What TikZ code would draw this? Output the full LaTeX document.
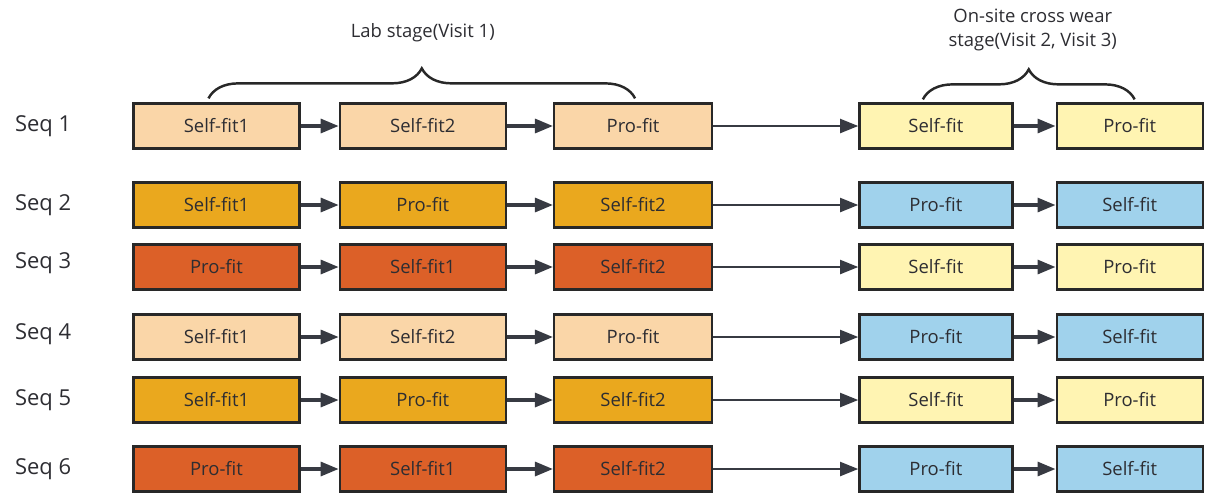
\documentclass[tikz,border=0pt]{standalone}
\usepackage{fontspec}
\setmainfont{Open Sans}
\usetikzlibrary{arrows.meta,positioning,calc,decorations.pathreplacing}

\definecolor{peach}{RGB}{250,214,168}
\definecolor{gold}{RGB}{234,168,30}
\definecolor{rust}{RGB}{220,96,40}
\definecolor{cream}{RGB}{255,244,178}
\definecolor{sky}{RGB}{160,210,236}
\definecolor{boxline}{RGB}{40,40,40}
\definecolor{txt}{RGB}{45,45,50}
\definecolor{arrgray}{RGB}{55,58,66}

\begin{document}
\begin{tikzpicture}[
    node distance=0.8cm,
    fitbox/.style={rectangle, draw=boxline, line width=1.3pt, minimum height=0.9cm,
                   inner sep=2pt, font=\fontsize{10.5}{12}\selectfont, text=txt},
    peachbox/.style={fitbox, fill=peach},
    goldbox/.style={fitbox, fill=gold},
    rustbox/.style={fitbox, fill=rust},
    creambox/.style={fitbox, fill=cream},
    skybox/.style={fitbox, fill=sky},
    colA/.style={minimum width=3.32cm},
    colB/.style={minimum width=3.32cm},
    colC/.style={minimum width=3.16cm},
    colD/.style={minimum width=3.06cm},
    colE/.style={minimum width=2.92cm},
    seqlbl/.style={font=\fontsize{12.5}{14}\selectfont, text=txt},
    stagelbl/.style={font=\fontsize{10.5}{13.6}\selectfont, text=txt, align=center},
    arr/.style={-{Triangle[length=0.36cm, width=0.28cm]}, line width=1.8pt, draw=arrgray},
    longarr/.style={-{Triangle[length=0.36cm, width=0.28cm]}, line width=1.1pt, draw=arrgray},
    brace/.style={decorate, decoration={brace, amplitude=0.6cm}, line width=1.4pt, draw=boxline}
  ]
    \useasboundingbox (0,0) rectangle (24.14,-9.86);

    %--- Seq 1 ---
    \node[peachbox, colA] at (4.33,-2.52) (s1a) {Self-fit1};
    \node[peachbox, colB, right=0.76cm of s1a] (s1b) {Self-fit2};
    \node[peachbox, colC, right=0.92cm of s1b] (s1c) {Pro-fit};
    \node[creambox, colD, right=2.90cm of s1c] (s1d) {Self-fit};
    \node[creambox, colE, right=0.84cm of s1d] (s1e) {Pro-fit};

    %--- Seq 2 ---
    \node[goldbox, colA] at (4.33,-4.10) (s2a) {Self-fit1};
    \node[goldbox, colB, right=0.76cm of s2a] (s2b) {Pro-fit};
    \node[goldbox, colC, right=0.92cm of s2b] (s2c) {Self-fit2};
    \node[skybox,  colD, right=2.90cm of s2c] (s2d) {Pro-fit};
    \node[skybox,  colE, right=0.84cm of s2d] (s2e) {Self-fit};

    %--- Seq 3 ---
    \node[rustbox, colA] at (4.33,-5.34) (s3a) {Pro-fit};
    \node[rustbox, colB, right=0.76cm of s3a] (s3b) {Self-fit1};
    \node[rustbox, colC, right=0.92cm of s3b] (s3c) {Self-fit2};
    \node[creambox, colD, right=2.90cm of s3c] (s3d) {Self-fit};
    \node[creambox, colE, right=0.84cm of s3d] (s3e) {Pro-fit};

    %--- Seq 4 ---
    \node[peachbox, colA] at (4.33,-6.74) (s4a) {Self-fit1};
    \node[peachbox, colB, right=0.76cm of s4a] (s4b) {Self-fit2};
    \node[peachbox, colC, right=0.92cm of s4b] (s4c) {Pro-fit};
    \node[skybox,   colD, right=2.90cm of s4c] (s4d) {Pro-fit};
    \node[skybox,   colE, right=0.84cm of s4d] (s4e) {Self-fit};

    %--- Seq 5 ---
    \node[goldbox, colA] at (4.33,-8.00) (s5a) {Self-fit1};
    \node[goldbox, colB, right=0.76cm of s5a] (s5b) {Pro-fit};
    \node[goldbox, colC, right=0.92cm of s5b] (s5c) {Self-fit2};
    \node[creambox, colD, right=2.90cm of s5c] (s5d) {Self-fit};
    \node[creambox, colE, right=0.84cm of s5d] (s5e) {Pro-fit};

    %--- Seq 6 ---
    \node[rustbox, colA] at (4.33,-9.38) (s6a) {Pro-fit};
    \node[rustbox, colB, right=0.76cm of s6a] (s6b) {Self-fit1};
    \node[rustbox, colC, right=0.92cm of s6b] (s6c) {Self-fit2};
    \node[skybox,  colD, right=2.90cm of s6c] (s6d) {Pro-fit};
    \node[skybox,  colE, right=0.84cm of s6d] (s6e) {Self-fit};

    %--- Row labels ---
    \node[seqlbl, left=1.1cm of s1a] (q1) {Seq 1};
    \node[seqlbl, left=1.1cm of s2a] (q2) {Seq 2};
    \node[seqlbl, left=1.1cm of s3a, yshift=0.08cm] (q3) {Seq 3};
    \node[seqlbl, left=1.1cm of s4a, yshift=0.06cm] (q4) {Seq 4};
    \node[seqlbl, left=1.1cm of s5a] (q5) {Seq 5};
    \node[seqlbl, left=1.1cm of s6a] (q6) {Seq 6};

    %--- Stage braces and titles ---
    \draw[brace] ([xshift=-0.16cm, yshift=0.08cm]s1a.north)
              -- ([xshift=0.04cm, yshift=0.08cm]s1c.north);
    \draw[brace] ([xshift=-0.26cm, yshift=0.06cm]s1d.north)
              -- ([xshift=0.10cm, yshift=0.06cm]s1e.north);
    \node[stagelbl, above=1.08cm of s1b] (lab) {Lab stage(Visit 1)};
    \node[stagelbl, anchor=south] (onsite)
      at ($(s1d.north)!0.5!(s1e.north)+(0,0.9)$) {On-site cross wear\\stage(Visit 2, Visit 3)};

    %--- Arrows ---
    \draw[arr] (s1a) -- (s1b);
    \draw[arr] (s1b) -- (s1c);
    \draw[longarr] (s1c) -- (s1d);
    \draw[arr] (s1d) -- (s1e);

    \draw[arr] (s2a) -- (s2b);
    \draw[arr] (s2b) -- (s2c);
    \draw[longarr] (s2c) -- (s2d);
    \draw[arr] (s2d) -- (s2e);

    \draw[arr] (s3a) -- (s3b);
    \draw[arr] (s3b) -- (s3c);
    \draw[longarr] (s3c) -- (s3d);
    \draw[arr] (s3d) -- (s3e);

    \draw[arr] (s4a) -- (s4b);
    \draw[arr] (s4b) -- (s4c);
    \draw[longarr] (s4c) -- (s4d);
    \draw[arr] (s4d) -- (s4e);

    \draw[arr] (s5a) -- (s5b);
    \draw[arr] (s5b) -- (s5c);
    \draw[longarr] (s5c) -- (s5d);
    \draw[arr] (s5d) -- (s5e);

    \draw[arr] (s6a) -- (s6b);
    \draw[arr] (s6b) -- (s6c);
    \draw[longarr] (s6c) -- (s6d);
    \draw[arr] (s6d) -- (s6e);
\end{tikzpicture}
\end{document}
